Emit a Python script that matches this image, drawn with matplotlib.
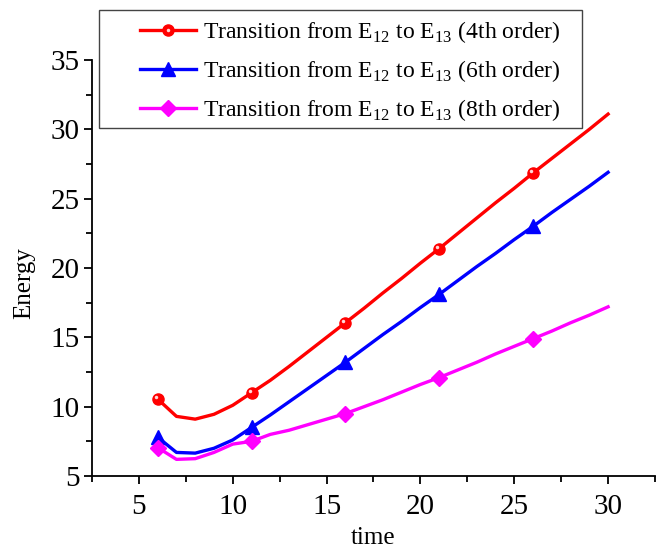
import matplotlib.pyplot as plt
from matplotlib.ticker import MultipleLocator
from matplotlib.patches import Rectangle
from matplotlib.transforms import ScaledTranslation

plt.rcParams['font.family'] = ['Liberation Serif', 'DejaVu Serif']
plt.rcParams['mathtext.fontset'] = 'custom'
plt.rcParams['mathtext.rm'] = 'Liberation Serif'

# time steps (markers every 5th point)
time = [6, 7, 8, 9, 10, 11, 12, 13, 14, 15, 16, 17, 18, 19, 20,
        21, 22, 23, 24, 25, 26, 27, 28, 29, 30]
energy_4th = [10.55, 9.3, 9.1, 9.45, 10.1, 11.0, 11.9, 12.9, 13.95, 15.0,
              16.05, 17.1, 18.2, 19.25, 20.35, 21.4, 22.5, 23.6, 24.7, 25.75,
              26.85, 27.9, 28.95, 30.0, 31.1]
energy_6th = [7.8, 6.7, 6.65, 7.0, 7.6, 8.5, 9.4, 10.35, 11.3, 12.25,
              13.2, 14.2, 15.2, 16.15, 17.15, 18.1, 19.1, 20.1, 21.05, 22.05,
              23.0, 24.0, 24.95, 25.9, 26.9]
energy_8th = [7.05, 6.2, 6.25, 6.7, 7.3, 7.5, 8.0, 8.3, 8.7, 9.1,
              9.5, 10.0, 10.5, 11.05, 11.6, 12.1, 12.65, 13.2, 13.8, 14.35,
              14.9, 15.45, 16.05, 16.6, 17.2]
labels = [r'Transition from E$_{12}$ to E$_{13}$ (4th order)',
          r'Transition from E$_{12}$ to E$_{13}$ (6th order)',
          r'Transition from E$_{12}$ to E$_{13}$ (8th order)']

W, H = 662, 551
fig = plt.figure(figsize=(W / 100, H / 100), dpi=100)
ax = fig.add_axes([92 / W, 1 - 476 / H, 563 / W, 416 / H])

l1, = ax.plot(time, energy_4th, color='red', lw=2.4, marker='o', ms=8,
              markevery=5)
# little shine on the red balls, like the original
shine = ax.transData + ScaledTranslation(-2 / 100, 2 / 100, fig.dpi_scale_trans)
hl, = ax.plot(time, energy_4th, ls='none', marker='o', ms=2.5, mew=0,
              color='#ffd8d8', markevery=5, transform=shine)
l2, = ax.plot(time, energy_6th, color='blue', lw=2.4, marker='^', ms=10,
              markevery=5)
l3, = ax.plot(time, energy_8th, color='magenta', lw=2.4, marker='D', ms=8,
              markevery=5)

ax.set_xlim(2.5, 32.5)
ax.set_ylim(5, 35)
ax.xaxis.set_major_locator(MultipleLocator(5))
ax.xaxis.set_minor_locator(MultipleLocator(2.5))
ax.yaxis.set_major_locator(MultipleLocator(5))
ax.yaxis.set_minor_locator(MultipleLocator(2.5))
ax.spines['top'].set_visible(False)
ax.spines['right'].set_visible(False)
for s in ('left', 'bottom'):
    ax.spines[s].set_linewidth(1.3)
ax.tick_params(which='major', direction='out', length=6, width=1.3, labelsize=21)
ax.tick_params(which='minor', direction='out', length=4, width=1.3)
ax.tick_params(axis='x', which='major', pad=7)
ax.tick_params(axis='y', which='major', pad=3)

ax.set_xlabel('time', fontsize=18)
ax.set_ylabel('Energy', fontsize=18)
ax.xaxis.set_label_coords(0.5, -0.122)
ax.yaxis.set_label_coords(-0.1, 0.464)

# legend box drawn separately so its padding matches the original
fig.patches.append(Rectangle((99 / W, 1 - 128 / H), 483 / W, 118 / H,
                             transform=fig.transFigure, fill=True,
                             facecolor='white', edgecolor='#444444', lw=1.0,
                             zorder=5))
leg = fig.legend([(l1, hl), l2, l3], labels, loc='center left',
                 bbox_to_anchor=(131 / W, 1 - 71 / H), fontsize=17,
                 frameon=False, borderaxespad=0, borderpad=0.4,
                 handlelength=2.35, labelspacing=0.56, handletextpad=0.3)
leg.set_zorder(6)

fig.savefig('out.png', dpi=100)
